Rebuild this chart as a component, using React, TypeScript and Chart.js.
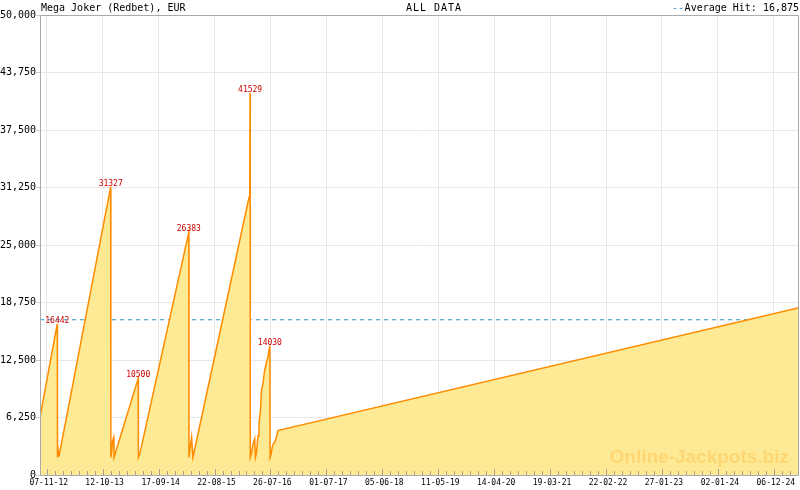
import React, { useEffect, useRef } from 'react';
import { Chart, registerables } from 'chart.js';

Chart.register(...registerables);

const TITLE = 'Mega Joker (Redbet), EUR';
const PERIOD = 'ALL DATA';
const AVERAGE_LABEL = 'Average Hit: 16,875';
const AVERAGE_HIT = 16875;
const WATERMARK = 'Online-Jackpots.biz';

const dates = [
  '2012-09-27', '2013-01-10', '2013-01-11', '2013-01-16', '2013-01-20',
  '2013-11-30', '2013-12-01', '2013-12-06', '2013-12-12', '2013-12-18', '2013-12-20',
  '2014-05-16', '2014-05-17', '2014-05-26',
  '2015-03-19', '2015-03-20', '2015-03-25', '2015-04-05', '2015-04-13',
  '2016-03-19', '2016-03-23', '2016-03-25', '2016-03-26', '2016-04-02', '2016-04-12',
  '2016-04-22', '2016-04-26', '2016-05-02', '2016-05-12', '2016-05-18', '2016-05-27',
  '2016-06-02', '2016-06-11', '2016-06-21', '2016-07-01', '2016-07-11', '2016-07-17',
  '2016-07-21', '2016-07-23', '2016-07-24', '2016-07-31', '2016-08-06', '2016-08-14',
  '2016-08-26', '2016-09-03', '2016-09-09', '2025-05-08',
];

const jackpot = [
  6270, 16442, 1900, 2645, 2000,
  31327, 1900, 2645, 3734, 4093, 1900,
  10500, 1900, 2320,
  26383, 1900, 2645, 4093, 1900,
  30220, 31100, 41529, 1900, 2320, 3407,
  3951, 1900, 2320, 4278, 5585, 7000,
  9177, 9939, 11354, 12116, 12802, 13531,
  13890, 14030, 1900, 2320, 3005, 3407,
  3734, 4278, 4823, 18170,
];

const peakLabels = [16442, 31327, 10500, 26383, 41529, 14030];

const tickLabels = [
  '07-11-12', '12-10-13', '17-09-14', '22-08-15', '26-07-16', '01-07-17', '05-06-18',
  '11-05-19', '14-04-20', '19-03-21', '22-02-22', '27-01-23', '02-01-24', '06-12-24',
];

const yTickValues = [0, 6250, 12500, 18750, 25000, 31250, 37500, 43750, 50000];

const X_START = '2012-09-27';
const X_END = '2025-05-08';

const dayOf = (iso: string) => {
  const [y, m, d] = iso.split('-').map(Number);
  return Date.UTC(y, m - 1, d) / 86400000;
};
const dayOfLabel = (lbl: string) => {
  const [d, m, y] = lbl.split('-').map(Number);
  return Date.UTC(2000 + y, m - 1, d) / 86400000;
};

const MONO = '"DejaVu Sans Mono", monospace';

const decorPlugin = {
  id: 'decor',
  afterDatasetsDraw(chart: any) {
    const { ctx, chartArea: a, scales } = chart;
    const xs = scales.x;
    ctx.save();
    // watermark
    ctx.font = 'bold 19px "Liberation Sans", Arial, sans-serif';
    ctx.fillStyle = 'rgba(255, 185, 70, 0.42)';
    ctx.textAlign = 'right';
    ctx.textBaseline = 'alphabetic';
    ctx.fillText(WATERMARK, 789, 463);

    // peak labels
    const meta = chart.getDatasetMeta(0);
    ctx.font = '8px ' + MONO;
    ctx.fillStyle = '#cc0000';
    ctx.textAlign = 'center';
    meta.data.forEach((pt: any, i: number) => {
      if (peakLabels.includes(jackpot[i])) {
        ctx.fillText(String(jackpot[i]), pt.x, pt.y - 1);
      }
    });

    // frame
    ctx.strokeStyle = '#aaaaaa';
    ctx.lineWidth = 1;
    ctx.beginPath();
    ctx.moveTo(a.left + 0.5, a.top + 0.5);
    ctx.lineTo(a.right - 0.5, a.top + 0.5);
    ctx.lineTo(a.right - 0.5, a.bottom + 0.5);
    ctx.lineTo(a.left + 0.5, a.bottom + 0.5);
    ctx.closePath();
    ctx.stroke();

    // x ticks (major + minor), drawn upward from the axis
    const majors = tickLabels.map(dayOfLabel);
    const step = (majors[majors.length - 1] - majors[0]) / (majors.length - 1) / 7;
    ctx.strokeStyle = '#a0a0a0';
    ctx.beginPath();
    for (let v = majors[0] - step * 20; v <= xs.max; v += step) {
      if (v < xs.min) continue;
      const k = Math.round((v - majors[0]) / step);
      const isMajor = k % 7 === 0 && k >= 0 && k / 7 < majors.length;
      const px = Math.round(xs.getPixelForValue(v)) + 0.5;
      const len = isMajor ? 6 : 4;
      ctx.moveTo(px, a.bottom);
      ctx.lineTo(px, a.bottom - len);
    }
    ctx.stroke();
    ctx.restore();
  },
  afterDraw(chart: any) {
    const { ctx } = chart;
    ctx.save();
    ctx.font = '10px ' + MONO;
    ctx.textBaseline = 'alphabetic';
    ctx.fillStyle = '#000';
    ctx.textAlign = 'left';
    ctx.fillText(TITLE, 41, 11);
    ctx.textAlign = 'center';
    (ctx as any).letterSpacing = '1px';
    ctx.fillText(PERIOD, 434, 11);
    (ctx as any).letterSpacing = '0px';
    ctx.textAlign = 'right';
    ctx.fillText(AVERAGE_LABEL, 799, 11);
    ctx.fillStyle = '#2a96d6';
    ctx.fillText('--', 684, 11);
    ctx.restore();
  },
};

export default function App() {
  const ref = useRef<HTMLCanvasElement | null>(null);

  useEffect(() => {
    if (!ref.current) return;
    const xMin = dayOf(X_START);
    const xMax = dayOf(X_END);
    const points = dates.map((d, i) => ({ x: dayOf(d), y: jackpot[i] }));
    const chart = new Chart(ref.current, {
      type: 'line',
      data: {
        datasets: [
          {
            data: points,
            borderColor: '#ff8c00',
            backgroundColor: 'rgb(254, 234, 148)',
            borderWidth: 1.5,
            fill: 'origin',
            pointRadius: 0,
            tension: 0,
          },
          {
            data: [
              { x: xMin, y: AVERAGE_HIT },
              { x: xMax, y: AVERAGE_HIT },
            ],
            borderColor: '#2a96d6',
            borderWidth: 1,
            borderDash: [4, 4],
            fill: false,
            pointRadius: 0,
          },
        ],
      },
      options: {
        animation: false,
        responsive: false,
        devicePixelRatio: 1,
        layout: { padding: { top: 15, right: 1, left: 0, bottom: 0 } },
        plugins: {
          legend: { display: false },
          tooltip: { enabled: false },
          title: { display: false },
        },
        scales: {
          x: {
            type: 'linear',
            min: xMin,
            max: xMax,
            afterBuildTicks: (s: any) => {
              s.ticks = tickLabels.map((l) => ({ value: dayOfLabel(l) }));
            },
            afterFit: (s: any) => {
              s.height = 15;
            },
            ticks: {
              autoSkip: false,
              maxRotation: 0,
              padding: 3,
              labelOffset: 2,
              color: '#000',
              font: { family: MONO, size: 8 },
              callback: (_v: any, i: number) => tickLabels[i],
            },
            grid: { color: '#e8e8e8', drawTicks: false },
            border: { display: false },
          },
          y: {
            min: 0,
            max: 50000,
            afterBuildTicks: (s: any) => {
              s.ticks = yTickValues.map((v) => ({ value: v }));
            },
            afterFit: (s: any) => {
              s.width = 40;
            },
            ticks: {
              padding: 0,
              color: '#000',
              font: { family: MONO, size: 10 },
              callback: (v: any) => Number(v).toLocaleString('en-US'),
            },
            grid: { color: '#e8e8e8', tickLength: 4, tickColor: '#cccccc' },
            border: { display: false },
          },
        },
      },
      plugins: [decorPlugin],
    } as any);
    return () => chart.destroy();
  }, []);

  return (
    <div style={{ position: 'fixed', left: 0, top: 0, width: 800, height: 490, background: '#fff' }}>
      <canvas ref={ref} width={800} height={490} style={{ display: 'block' }} />
    </div>
  );
}
